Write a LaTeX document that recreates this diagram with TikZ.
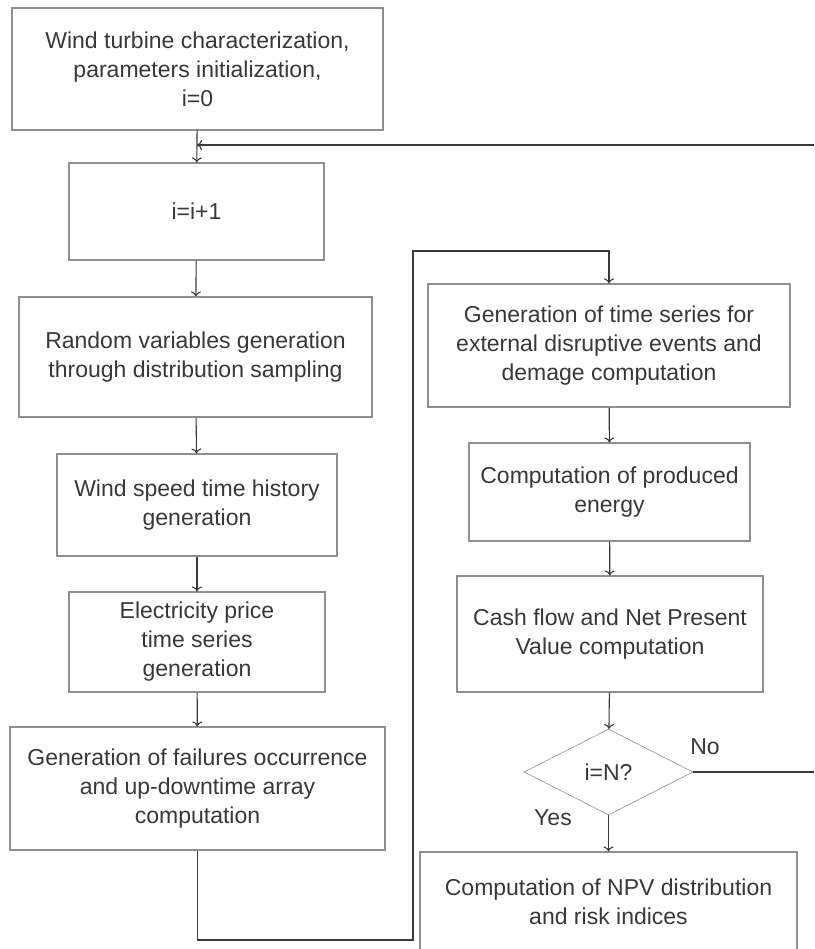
\documentclass[tikz,border=0pt]{standalone}
\usepackage{fontspec}
\setmainfont{Liberation Sans}
\usetikzlibrary{shapes.geometric,arrows.meta}
\definecolor{boxline}{HTML}{8F8F8F}
\definecolor{arrline}{HTML}{3A3A3A}
\definecolor{txt}{HTML}{383838}
\tikzset{
  flowbox/.style={draw=boxline, line width=1.2pt, rectangle, align=center, text=txt, inner sep=0pt,
    font=\fontsize{23}{29}\selectfont},
  decbox/.style={draw=boxline, line width=0.6pt, diamond, align=center, text=txt, inner sep=0pt,
    font=\fontsize{23}{29}\selectfont},
  lbl/.style={text=txt, inner sep=0pt, font=\fontsize{23}{29}\selectfont},
  conn/.style={draw=arrline, line width=1.1pt, -{To[length=5pt,width=10pt]}},
  plain/.style={draw=arrline, line width=1.1pt}
}
\begin{document}
\begin{tikzpicture}[x=1pt,y=-1pt]
\useasboundingbox (0,0) rectangle (814,949);
\node[flowbox, minimum width=371pt, minimum height=122pt] (b1) at (197.5,69)
  {Wind turbine characterization,\\ parameters initialization,\\ i=0};
\node[flowbox, minimum width=255pt, minimum height=97pt] (b2) at (196.5,211.5) {i=i+1};
\node[flowbox, minimum width=353pt, minimum height=120pt] (b3) at (195.5,357)
  {Random variables generation\\ through distribution sampling};
\node[flowbox, minimum width=280pt, minimum height=102pt] (b4) at (197,505)
  {Wind speed time history\\ generation};
\node[flowbox, minimum width=256pt, minimum height=100pt] (b5) at (197,642)
  {Electricity price\\ time series\\ generation};
\node[flowbox, minimum width=375pt, minimum height=123pt] (b6) at (197.5,788.5)
  {Generation of failures occurrence\\ and up-downtime array\\ computation};
\node[flowbox, minimum width=362pt, minimum height=123pt] (b7) at (609,345.5)
  {Generation of time series for\\ external disruptive events and\\ demage computation};
\node[flowbox, minimum width=281pt, minimum height=98pt] (b8) at (609.5,492)
  {Computation of produced\\ energy};
\node[flowbox, minimum width=306pt, minimum height=116pt] (b9) at (610,634)
  {Cash flow and Net Present\\ Value computation};
\node[decbox, minimum width=169pt, minimum height=86pt] (d) at (608.5,772) {i=N?};
\node[flowbox, minimum width=377pt, minimum height=99pt] (b10) at (608.5,901.5)
  {Computation of NPV distribution\\ and risk indices};
\node[lbl] (no) at (705,747) {No};
\node[lbl] (yes) at (553,818) {Yes};
\coordinate (rA) at (814,772);
\coordinate (rB) at (814,145);
\coordinate (j1) at (197,145);
\coordinate (c1) at (197.5,940);
\coordinate (c2) at (413,940);
\coordinate (c3) at (413,251);
\coordinate (c4) at (609,251);
\draw[conn] (b1) -- (b2);
\draw[conn] (rB) -- (j1);
\draw[conn] (b2) -- (b3);
\draw[conn] (b3) -- (b4);
\draw[conn] (b4) -- (b5);
\draw[conn] (b5) -- (b6);
\draw[conn] (b6.south) -- (c1) -- (c2) -- (c3) -- (c4) -- (b7.north);
\draw[conn] (b7) -- (b8);
\draw[conn] (b8) -- (b9);
\draw[conn] (b9) -- (d);
\draw[conn] (d) -- (b10);
\draw[plain] (d.east) -- (rA);
\end{tikzpicture}
\end{document}
